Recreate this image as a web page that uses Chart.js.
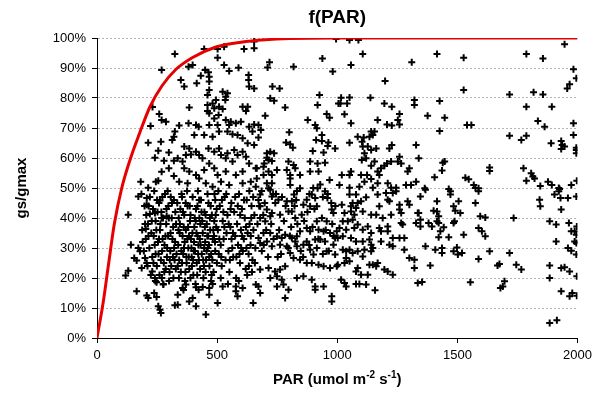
<!DOCTYPE html>
<html>
<head>
<meta charset="utf-8">
<title>f(PAR)</title>
<script src="https://cdn.jsdelivr.net/npm/chart.js@4"></script>
<style>
  html, body { margin: 0; padding: 0; background: #fff; }
  #wrap { width: 597px; height: 393px; }
</style>
</head>
<body>
<div id="wrap"><canvas id="chart-fpar" width="597" height="393"></canvas></div>
<script>
'use strict';

/* ─── Data (PAR in umol m-2 s-1, gs/gmax in %) ──────────────── */
const xTicks = [0, 500, 1000, 1500, 2000];
const yTicks = [0, 10, 20, 30, 40, 50, 60, 70, 80, 90, 100];

// response curve
const curvePar = [0, 26, 47, 72, 103, 140, 176, 220, 270, 328, 398, 495, 600, 700, 800, 1000, 1500, 2000];
const curveGs  = [0, 12, 24, 38, 50, 60, 68, 77, 84, 89.5, 93.5, 97, 98.6, 99.4, 99.8, 100, 100, 100];

// observations, left part of the cloud (PAR < 700)
const obsLow = [
  [324,94.7],[269,89.3],[231,77],[259,74.7],[269,72.7],[287,72.1],[223,70.7],[324,68.8],[320,67.1],[213,65.1],
  [266,65.4],[313,66],[255,62.4],[299,61.8],[241,60.1],[279,59.1],[320,59.1],[269,55.4],[299,56.6],[320,54],
  [182,52.1],[245,52.1],[255,52.4],[213,50.1],
  [172,47.2],[207,46.7],[207,44.4],[262,45.8],[130,41.1],[203,36.3],[141,31.1],[172,30],[179,28.9],[155,26.7],
  [165,25.8],[200,26.7],[207,25],[186,23.3],[130,22.4],[119,20.8],[165,15.6],[207,14.2],[213,13.3],[238,15],
  [248,13.7],[255,10.6],[266,8.3],[262,9.4],[324,10.9],[230,22.2],[241,20],[248,18.6],[276,17.8],[220,41.3],
  [241,41.7],[269,40],[290,40.6],
  [446,96.3],[502,96.3],[529,97.1],[612,96.3],[654,96.6],[654,98.8],[502,93.4],[381,90.4],[398,91],[529,91],
  [589,90.1],[550,89],[450,89.3],[464,88.6],[432,87.4],[467,87.1],[349,86],[363,83.8],[415,84.9],[467,85.5],
  [631,87.7],[631,86],[633,83.8],[654,83.2],[467,82.7],[460,81],[523,82.1],[543,81.6],[536,80.4],[534,79.3],
  [495,79.3],[481,78.2],[460,77.7],[488,76.6],[384,76.8],[460,75.7],[467,74.9],[508,77.1],[523,76.3],[506,74.3],
  [606,77.1],[627,77.1],[620,75.7],[536,72.7],[557,72.1],[578,71.6],[599,72.1],[342,70.8],[381,71.6],[412,71],
  [423,70.4],[467,71],[488,73.2],[502,71],[508,68.8],[550,71],[543,68.8],[564,67.9],[633,70.4],[654,71.2],
  [647,68.8],[405,67.7],[446,67.7],[481,67.1],[585,67.7],[606,66.6],[627,64.9],[654,64.3],[363,63.8],[384,63.2],
  [370,61],[391,61.2],[412,62.1],[425,61],[464,63.2],[488,62.1],[508,63.2],[516,61],[543,61.6],[571,62.7],
  [585,61],[606,62.1],[336,59.9],[356,58.8],[439,59.9],[467,58.2],[536,59.9],[564,58.8],[620,60.4],[633,58.2],
  [661,56.6],[363,56.6],[384,55.5],[412,54.3],[446,56],[488,56.6],[502,54.3],[536,55.5],[578,54.3],[606,55.5],
  [342,52.1],[377,51.6],[425,53.2],[453,51.6],[481,50.4],[516,52.1],[550,51],[606,51.6],[640,52.1],[661,50.4],
  [412,16.9],[423,16.1],[467,16.7],[467,14.4],[502,11.7],[578,17.2],[585,13.9],[650,11.7],[661,17.8],[384,12.2],
  [398,13.3],[412,10.6],[453,7.8],[336,11.1],[336,14.4],[356,16.7],[370,17.8],[523,17.2],[578,15.6],[606,16.7]
];

// observations, dense core (PAR 180-660, gs 15-50 %)
const obsCore = [
  [185,48],[198,44],[205,41],[212,38],[220,47],[226,35],[233,43],[240,31],[244,39],[250,46],[256,28],[262,36],
  [268,42],[273,33],[278,25],[283,48],[288,38],[292,30],[297,44],[302,22],[306,35],[311,40],[316,27],[320,46],
  [325,32],[329,38],[188,36],[195,29],[203,33],[210,24],[218,30],[224,21],[230,27],[236,34],[243,19],[249,24],
  [254,32],[260,21],[266,26],[271,29],[276,18],[281,31],[286,23],[291,27],[296,34],[300,19],[305,29],[309,24],
  [314,33],[318,20],[323,26],[328,23],[215,44],[238,49],[258,45],[275,40],[294,49],[312,45],[200,38],[247,36],
  [264,38],[285,34],[299,40],[326,42],[228,39],[252,42],[272,47],[307,47],[235,25],[258,33],[280,22],[303,26],
  [317,37],[190,32],[214,34],[244,28],[270,20],[289,43],[321,30],
  [334,45],[338,31],[342,26],[345,38],[349,22],[352,48],[356,34],[359,28],[363,41],[366,19],[370,36],[373,25],
  [377,44],[380,30],[384,23],[387,39],[391,33],[394,27],[398,47],[401,21],[405,37],[408,29],[412,43],[415,25],
  [419,34],[422,31],[426,40],[429,23],[433,46],[436,28],[440,35],[443,20],[447,42],[450,32],[454,26],[457,38],
  [461,30],[464,45],[468,24],[471,36],[475,28],[478,41],[482,33],[485,22],[489,48],[492,29],[496,37],[499,25],
  [336,24],[344,35],[351,29],[358,42],[365,32],[372,27],[379,37],[386,44],[393,30],[400,26],[407,40],[414,35],
  [421,28],[428,33],[435,42],[442,26],[449,37],[456,29],[463,34],[470,40],[477,21],[484,36],[491,32],[498,43],
  [340,40],[361,37],[383,34],[404,32],[425,46],[446,30],[467,27],[488,39],[410,18],[440,17],[360,16],[475,19],
  [395,24],[430,38],[331,28],[339,36],[347,43],[354,25],[362,30],[369,45],[376,33],[382,27],[389,41],[397,35],
  [403,29],[411,39],[418,44],[424,26],[431,31],[438,39],[445,24],[452,41],[459,34],[466,31],[473,44],[480,26],
  [487,34],[494,41],[341,20],[368,22],[389,20],[417,21],[452,22],[481,18],[354,47],[375,49],[420,49],[460,48],
  [492,46],
  [503,36],[507,28],[511,44],[515,31],[519,24],[523,39],[527,33],[531,47],[535,26],[539,35],[543,41],[547,29],
  [551,22],[555,37],[559,45],[563,30],[567,27],[571,42],[575,34],[579,20],[583,38],[587,31],[591,48],[595,25],
  [599,36],[603,43],[607,29],[611,33],[615,40],[619,23],[623,46],[627,35],[631,28],[635,38],[639,31],[643,44],
  [647,26],[651,36],[655,41],[659,30],[505,49],[520,46],[538,48],[556,43],[575,47],[596,41],[612,46],[634,49],
  [650,47],[515,20],[545,18],[590,19],[625,21],[645,22],[530,37],[560,33],[580,27],[600,30],[620,37],[640,34],
  [509,33],[526,42],[548,38],[566,35],[586,44],[604,34],[622,30],[642,40],[657,25],[517,27],[553,26],[593,28],
  [632,24]
];

// observations, PAR 660-1000
const obsMid = [
  [995,99.7],[938,93.2],[718,91.9],[710,90.2],[818,90.4],[981,88.8],[730,83.8],[760,83.2],[721,79.9],[737,79.1],
  [926,81],[918,77.7],[783,76.8],[700,74.1],[956,74.7],[968,73.4],[877,72.7],[1005,78.2],[908,71],[915,69.9],
  [672,71],[682,69.3],[672,66.8],[800,68.6],[936,67.7],[912,66],[936,65.7],[963,65.2],[960,64],[787,65.2],
  [804,64.6],[815,63.4],[991,63.2],[898,62.3],[943,61.8],[707,61.6],[721,62.1],[737,61.6],[707,60.1],[714,59.3],
  [696,58.2],[728,59],[887,58.8],[918,58.2],[949,58.4],[797,58.8],[818,57.7],[825,56.6],[790,56],[804,54.3],
  [693,57.1],[714,55.5],[728,54.3],[693,54.3],[665,56.6],[749,56],[845,54.3],[887,55.5],[922,55.5],[968,52.7],
  [929,51.2],[665,53.2],[707,51.6],[728,51.6],[714,49.9],[804,53.2],[804,51],[845,49.9],[918,49.9],
  [721,49.4],[679,47.8],[728,47.2],[755,46.1],[790,45.6],[811,45.6],[820,47.8],[873,46.1],[894,47.8],[908,46.7],
  [949,48.9],[959,46.7],[859,44.4],[887,43.9],[915,43.9],[977,42.8],[984,41.7],[679,43.9],[707,42.8],[728,41.7],
  [762,41.1],[797,42.2],[811,42.2],[825,40],[852,41.1],[679,40],[700,38.9],[721,40.6],[915,38.9],[956,38.9],
  [922,36.1],[998,35.6],[943,35.6],[970,35],[991,33.3],[873,36.7],[887,35.6],[845,35.6],[811,33.3],[832,33.9],
  [825,32.2],[783,34.4],[769,33.3],[749,33.9],[721,35],[693,35],[672,33.3],[679,31.7],[707,32.2],[728,30.6],
  [762,31.1],[790,30.6],[832,30.6],[859,31.1],[873,32.2],[908,32.8],[929,32.8],[949,32.2],[984,31.1],[915,30],
  [956,28.9],[991,27.8],[901,27.8],[887,29.4],[804,28.3],[818,26.7],[845,26.1],[873,25],[894,25],[922,24.4],
  [943,23.9],[970,23.3],[998,23.9],[783,23.9],[762,22.8],[741,22.2],[714,23.3],[721,20],[679,22.8],[672,17.2],
  [679,15],[749,20.6],[769,19.4],[749,17.2],[776,17.8],[797,16.1],[783,13.3],[832,20],[859,20.6],[894,19.4],
  [908,17.2],[908,16.1],[943,17.2],[977,13.9],[977,12.2],
  [668,38],[675,44],[686,29],[692,41],[704,36],[712,27],[725,38],[735,33],[742,45],[758,36],[766,28],[778,39],
  [785,44],[796,30],[808,37],[822,44],[834,38],[848,29],[862,39],[876,42],[883,31],[897,37],[905,43],[921,33],
  [936,40],[952,36],[965,29],[979,38],[992,44],[685,49],[745,48],[832,49],[900,50],[960,48],[672,46],[698,45],
  [733,48],[770,47],[829,46],[884,48],[940,47],[975,45],[694,31],[752,27],[803,34],[858,27],[940,28],[985,34]
];

// observations, PAR above 1000
const obsHigh = [
  [1051,99.3],[1088,99.3],[1106,94.7],[1057,91],[1310,91.9],[1199,85.7],[1016,80.1],[1051,80.2],[1138,80.1],
  [1013,78.2],[1041,78.2],[1196,78.2],[1227,77.1],[1321,79.3],[1321,77.7],[1030,74.6],[1259,74.7],[1252,72.7],
  [1259,71.2],[1168,72.7],[1057,71.6],[1207,71.2],[1227,70.8],[1141,68.8],[1148,67.7],[1155,68.8],[1134,67.1],
  [1085,67.1],[1110,66.8],[1103,65.4],[1106,63.8],[1051,65.1],[1127,63.8],[1141,62.7],[1162,63.2],[1113,61.6],
  [1102,59.3],[1227,64.3],[1217,63.2],[1328,64.3],[1120,59.9],[1155,58.8],[1141,57.4],[1259,60.4],[1252,58.8],
  [1266,58.2],[1207,58.2],[1224,58.8],[1182,56.6],[1168,55.5],[1196,57.4],[1300,56.6],[1293,55.5],[1019,54.3],
  [1057,55.5],[1051,54.3],[1099,54.3],[1124,54.3],[1113,52.1],[1141,53],[1175,54.3],[1009,51],[1051,50.1],
  [1092,50.4],[1148,50.1],[1168,51.6],[1210,51.6],[1224,50.1],[1245,50.1],[1286,51],[1307,51],[1328,52.1],
  [1051,47.8],[1078,47.8],[1120,46.9],[1168,47.8],[1203,48.3],[1210,46.1],[1217,45.6],[1231,48.3],[1245,48.9],
  [1019,44.4],[1064,45],[1085,45],[1099,45.6],[1057,43.9],[1078,43.3],[1175,43.9],[1259,44.4],[1293,45.6],
  [1300,44.4],[1259,42.8],[1266,41.7],[1030,41.7],[1057,42.2],[1071,41.1],[1106,42.2],[1141,41.1],[1162,41.1],
  [1189,40],[1224,41.1],[1335,41.7],[1328,38.3],[1023,38.9],[1044,38.9],[1064,39.4],[1085,37.8],[1009,36.7],
  [1037,36.1],[1071,36.7],[1106,36.1],[1127,37.2],[1141,35],[1175,36.7],[1182,35.6],[1210,37.2],[1210,35.6],
  [1231,33.3],[1259,33.3],[1279,33.3],[1266,38.3],[1272,37.8],[1002,33.3],[1023,33.9],[1057,33.3],[1078,32.2],
  [1106,32.2],[1134,32.8],[1141,31.1],[1182,32.2],[1231,30.6],[1217,31.1],[1023,29.4],[1037,28.9],[1051,29.4],
  [1064,28.3],[1085,28.9],[1113,29.4],[1141,28.9],[1148,30],[1279,29.4],[1300,26.7],[1321,26.1],[1321,23.3],
  [1002,24.4],[1030,25],[1037,26.7],[1051,25.6],[1085,23.3],[1106,27.2],[1078,22.2],[1099,21.1],[1127,21.1],
  [1134,24.4],[1148,24.4],[1162,23.9],[1168,25],[1196,22.8],[1210,22.2],[1231,21.1],[1016,19.4],[1030,18.3],
  [1037,17.2],[1078,18],[1092,18],[1120,17.8],[1157,15.9],[1335,18.3],
  [1415,94.7],[1526,93.4],[1526,82.7],[1426,79],[1376,74.1],[1447,73.4],[1540,71],[1558,71],[1426,69],
  [1339,59.9],[1439,58.4],[1447,58.8],[1436,55.8],[1634,56.8],[1634,55.7],[1405,53.6],[1533,53.4],[1547,52.9],
  [1568,51],[1588,49.9],[1364,49.9],[1464,49.7],
  [1367,49.4],[1346,47.2],[1471,48.9],[1471,47.8],[1575,50],[1588,48.9],[1415,45.6],[1401,42.4],[1415,42.2],
  [1505,45.6],[1484,43.9],[1491,42.4],[1512,41.7],[1575,45],[1339,41.7],[1422,40.6],[1415,38.9],[1595,40.6],
  [1616,40.2],[1484,38.3],[1488,38.9],[1346,39.4],[1346,37.2],[1380,38.3],[1394,37.2],[1422,38.3],[1443,36.9],
  [1429,35.6],[1422,33.6],[1464,33.6],[1526,34.4],[1588,36.7],[1602,35.6],[1616,33.9],[1367,30.6],[1408,29.4],
  [1436,30],[1436,28.3],[1484,28.9],[1498,30.2],[1502,27.8],[1519,28.3],[1588,26.3],[1634,28.9],[1667,24.2],
  [1387,24.2],[1353,18.7],[1554,18.6],[1679,16.7],
  [1946,97.9],[1787,94.7],[1856,93.2],[1983,89.6],[1995,86.6],[1967,84.6],[1957,83.2],[1717,81.2],[1817,81.9],
  [1856,81.2],[1787,77.1],[1893,77.1],[1835,72.3],[1863,70.4],[1983,71.6],[1717,67.4],[1766,66],[1787,67.4],
  [1983,67.7],[1890,64.9],[1932,65.7],[1936,64.3],[1946,63.8],[1932,63],[1995,63.4],[1995,61.6],[1995,62.7],
  [1775,56.6],[1807,54.9],[1814,53.8],[1787,52.4],[1821,53.2],[1845,50.7],[1877,52.1],[1893,51],[1925,49.7],
  [1974,51],[1997,52.4],
  [1842,46.1],[1845,43.9],[1904,47.8],[1922,48.9],[1922,50],[1929,46.7],[1960,46.7],[1995,47.2],[1932,42.8],
  [1734,40],[1884,38.9],[1911,37.8],[1964,38.3],[1997,37.2],[1974,35.6],[1988,35.6],[1995,34.4],[1988,32.2],
  [1995,31.7],[1911,32.2],[1960,30],[1974,29.1],[1995,27.8],[1717,28.3],[1745,24.4],[1766,22.8],[1884,24.2],
  [1932,23.3],[1946,23.6],[1967,22.2],[1884,20],[1997,20.6],[1696,18.9],[1689,17.2],[1932,15.6],[1967,13.9],
  [1978,15],[1997,14.1],[1884,5],[1914,5.9],[1675,24.7]
];

/* ─── Styling ───────────────────────────────────────────────── */
const FONT = "Arial, 'Liberation Sans', sans-serif";

/* ─── Titles drawn on the canvas (x title needs superscripts) ── */
const titlesPlugin = {
  id: 'titles',
  afterDraw(chart) {
    const { ctx, chartArea: a } = chart;
    const cx = (a.left + a.right) / 2;
    ctx.save();
    ctx.fillStyle = '#000';
    ctx.textBaseline = 'middle';

    ctx.textAlign = 'center';
    ctx.font = `bold 19px ${FONT}`;
    ctx.fillText('f(PAR)', cx, 18);

    // x axis title with superscripts
    const parts = [['PAR (umol m', 0], ['-2', 1], [' s', 0], ['-1', 1], [')', 0]];
    const fontOf = sup => sup ? `bold 10px ${FONT}` : `bold 15px ${FONT}`;
    let total = 0;
    parts.forEach(([t, sup]) => { ctx.font = fontOf(sup); total += ctx.measureText(t).width; });
    let x = cx - total / 2;
    ctx.textAlign = 'left';
    parts.forEach(([t, sup]) => {
      ctx.font = fontOf(sup);
      ctx.fillText(t, x, sup ? 375 : 380);
      x += ctx.measureText(t).width;
    });

    // y axis title
    ctx.translate(22, (a.top + a.bottom) / 2);
    ctx.rotate(-Math.PI / 2);
    ctx.textAlign = 'center';
    ctx.font = `bold 15px ${FONT}`;
    ctx.fillText('gs/gmax', 0, 0);
    ctx.restore();
  }
};

/* ─── Chart ─────────────────────────────────────────────────── */
const toXY = list => list.map(([x, y]) => ({ x, y }));
const observations = [...obsLow, ...obsCore, ...obsMid, ...obsHigh];

new Chart(document.getElementById('chart-fpar'), {
  type: 'scatter',
  data: {
    datasets: [
      {
        label: 'f(PAR)',
        data: curvePar.map((x, i) => ({ x, y: curveGs[i] })),
        showLine: true,
        borderColor: '#e60000',
        borderWidth: 3,
        pointRadius: 0,
        cubicInterpolationMode: 'monotone',
        order: 0,
      },
      {
        label: 'gs/gmax',
        data: toXY(observations),
        pointStyle: 'cross',
        pointRadius: 3.5,
        pointBorderWidth: 2,
        borderColor: '#000',
        backgroundColor: '#000',
        order: 1,
      },
    ],
  },
  options: {
    responsive: false,
    animation: false,
    devicePixelRatio: 1,
    layout: { padding: { top: 38, right: 19, left: 0, bottom: 0 } },
    plugins: {
      legend: { display: false },
      tooltip: { enabled: false },
    },
    scales: {
      x: {
        type: 'linear',
        min: 0,
        max: 2000,
        afterFit: s => { s.height = 55; },
        afterBuildTicks: s => { s.ticks = xTicks.map(value => ({ value })); },
        grid: { drawOnChartArea: false, tickLength: 5, tickColor: '#000' },
        border: { color: '#000', width: 1 },
        ticks: {
          color: '#000',
          font: { family: FONT, size: 13 },
          padding: 5,
          maxRotation: 0,
          callback: v => String(v),
        },
      },
      y: {
        type: 'linear',
        min: 0,
        max: 100,
        afterFit: s => { s.width = 97; },
        afterBuildTicks: s => { s.ticks = yTicks.map(value => ({ value })); },
        grid: { color: '#b4b4b4', lineWidth: 1, tickLength: 5, tickColor: '#000', tickBorderDash: [] },
        border: { color: '#000', width: 1, dash: [2, 2] },
        ticks: {
          color: '#000',
          font: { family: FONT, size: 13 },
          padding: 6,
          callback: v => v + '%',
        },
      },
    },
  },
  plugins: [titlesPlugin],
});
</script>
</body>
</html>
